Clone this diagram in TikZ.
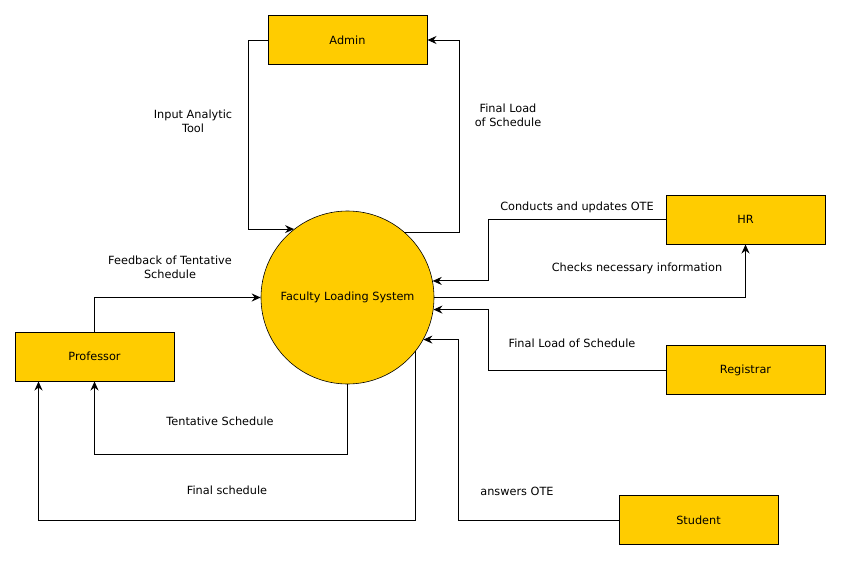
\documentclass[tikz,border=0pt]{standalone}
\usepackage{fontspec}
\setmainfont{DejaVu Sans}
\usetikzlibrary{arrows.meta,calc}
\definecolor{fcol}{HTML}{FFCC00}
\begin{document}
\begin{tikzpicture}[x=1pt,y=-1pt,
  font=\fontsize{11.3}{14}\selectfont,
  ent/.style={draw, fill=fcol, minimum width=159pt, minimum height=49pt, inner sep=0pt, line width=1pt},
  proc/.style={circle, draw, fill=fcol, minimum size=173pt, inner sep=0pt, line width=0.6pt},
  flow/.style={draw, line width=0.9pt, -{Stealth[length=9pt,width=8pt,inset=3pt]}},
  lbl/.style={align=center, inner sep=0pt}]
\useasboundingbox (0,0) rectangle (841,560);
\node[ent] (admin) at (347.5,40) {Admin};
\node[proc] (fls) at (347.5,297.5) {Faculty Loading System};
\node[ent] (hr) at (745.5,219.5) {HR};
\node[ent] (reg) at (745.5,370) {Registrar};
\node[ent] (prof) at (94.5,356.5) {Professor};
\node[ent] (stu) at (698.5,520) {Student};

\draw[flow] (admin.west) -- ++(-19,0) |- (fls.128.5);
\draw[flow] (fls.49.4) -| ($(admin.east)+(32,0)$) -- (admin.east);
\draw[flow] (hr.west) -- ++(-177,0) |- (fls.11.2);
\draw[flow] (fls.east) -| (hr.south);
\draw[flow] (reg.west) -- ++(-177,0) |- (fls.-8.5);
\draw[flow] (stu.west) -- ++(-160,0) |- (fls.-29);
\draw[flow] (prof.north) |- (fls.west);
\draw[flow] (fls.south) -- ++(0,70) -| (prof.south);
\draw[flow] (fls.-38) -- (fls.-38 |- stu.west) -| ($(prof.south west)+(24,0)$);

\node[lbl] (l1) at (193,121) {Input Analytic\\Tool};
\node[lbl] (l2) at (508,115) {Final Load\\of Schedule};
\node[lbl] (l3) at (577,207) {Conducts and updates OTE};
\node[lbl] (l4) at (637,268) {Checks necessary information};
\node[lbl] (l5) at (572,343) {Final Load of Schedule};
\node[lbl] (l6) at (517,491) {answers OTE};
\node[lbl] (l7) at (170,267) {Feedback of Tentative\\Schedule};
\node[lbl] (l8) at (220,421) {Tentative Schedule};
\node[lbl] (l9) at (227,490) {Final schedule};
\end{tikzpicture}
\end{document}
